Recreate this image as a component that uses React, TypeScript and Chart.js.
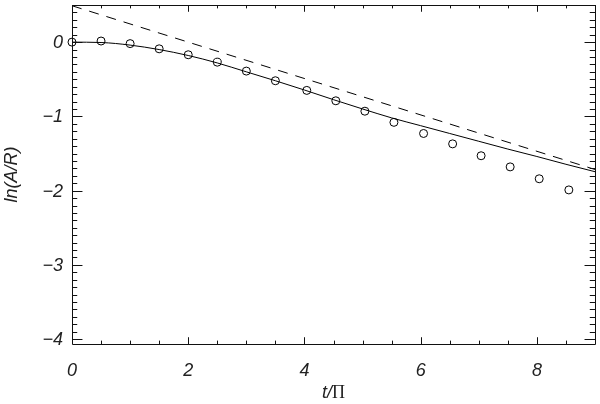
import React, { useEffect, useRef } from "react";
import { Chart, registerables } from "chart.js";

Chart.register(...registerables);

// Solid curve samples
const curveX = [0, 0.5, 1, 1.5, 2, 2.5, 3, 3.5, 4, 4.5, 5, 5.5, 6, 6.5, 7, 7.5, 8, 8.5, 9];
const curveY = [0, -0.005, -0.04, -0.1, -0.18, -0.28, -0.4, -0.52, -0.645, -0.775, -0.9, -1.02, -1.125, -1.23, -1.335, -1.44, -1.54, -1.645, -1.745];

// Dashed asymptote
const dashX = [0, 9];
const dashY = [0.49, -1.715];

// Circles
const circX = [0, 0.5, 1.0, 1.5, 2.0, 2.5, 3.0, 3.5, 4.04, 4.54, 5.04, 5.54, 6.05, 6.55, 7.04, 7.54, 8.04, 8.55];
const circY = [0, 0.015, -0.02, -0.09, -0.17, -0.27, -0.39, -0.52, -0.65, -0.79, -0.93, -1.08, -1.23, -1.37, -1.53, -1.68, -1.84, -1.99];

// Axes
const xMajor = [0, 2, 4, 6, 8];
const xMajorLabels = ["0", "2", "4", "6", "8"];
const xMinorStep = 0.5;
const yMajor = [0, -1, -2, -3, -4];
const yMajorLabels = ["0", "\u22121", "\u22122", "\u22123", "\u22124"];
const yMinorStep = 0.1;
const X_MIN = 0, X_MAX = 9, Y_MIN = -4.065, Y_MAX = 0.5;
const xTitleA = "t/";
const xTitleB = "\u03A0";
const yTitle = "ln(A/R)";

const FONT = "italic 18px 'Liberation Sans', Arial, sans-serif";
const FONT_UP = "18px 'Liberation Serif', serif";

const framePlugin = {
  id: "idlFrame",
  afterDraw(chart: any) {
    const ctx = chart.ctx;
    const { left, right, top, bottom } = chart.chartArea;
    const xs = chart.scales.x;
    const ys = chart.scales.y;
    const h = bottom - top;
    const w = right - left;
    const xMajLen = 0.02 * h, xMinLen = 0.01 * h;
    const yMajLen = 0.02 * w, yMinLen = 0.01 * w;
    ctx.save();
    ctx.strokeStyle = "#111";
    ctx.lineWidth = 1;
    ctx.beginPath();
    ctx.rect(left + 0.5, top + 0.5, w, h);
    ctx.stroke();
    ctx.beginPath();
    // x ticks
    for (let v = X_MIN; v <= X_MAX + 1e-9; v += xMinorStep) {
      const isMaj = xMajor.some((m) => Math.abs(m - v) < 1e-6);
      const len = isMaj ? xMajLen : xMinLen;
      const px = Math.round(xs.getPixelForValue(v)) + 0.5;
      ctx.moveTo(px, bottom);
      ctx.lineTo(px, bottom - len);
      ctx.moveTo(px, top);
      ctx.lineTo(px, top + len);
    }
    // y ticks
    const n = Math.round((Y_MAX - (-4)) / yMinorStep);
    for (let i = 0; i <= n; i++) {
      const v = -4 + i * yMinorStep;
      if (v < Y_MIN || v > Y_MAX + 1e-9) continue;
      const isMaj = yMajor.some((m) => Math.abs(m - v) < 1e-6);
      const len = isMaj ? yMajLen : yMinLen;
      const py = Math.round(ys.getPixelForValue(v)) + 0.5;
      ctx.moveTo(left, py);
      ctx.lineTo(left + len, py);
      ctx.moveTo(right, py);
      ctx.lineTo(right - len, py);
    }
    ctx.stroke();

    ctx.fillStyle = "#222";
    ctx.font = FONT;
    ctx.textAlign = "center";
    ctx.textBaseline = "top";
    xMajor.forEach((v, i) => {
      ctx.fillText(xMajorLabels[i], xs.getPixelForValue(v), bottom + 18);
    });
    ctx.textAlign = "right";
    ctx.textBaseline = "middle";
    yMajor.forEach((v, i) => {
      ctx.fillText(yMajorLabels[i], left - 9, ys.getPixelForValue(v) + 1);
    });
    // x title: italic "t/" + upright Pi
    ctx.textBaseline = "alphabetic";
    ctx.textAlign = "left";
    ctx.font = FONT;
    const wa = ctx.measureText(xTitleA).width;
    ctx.font = FONT_UP;
    const wb = ctx.measureText(xTitleB).width;
    const x0 = (left + right) / 2 - (wa + wb) / 2;
    const base = bottom + 54;
    ctx.font = FONT;
    ctx.fillText(xTitleA, x0, base);
    ctx.font = FONT_UP;
    ctx.fillText(xTitleB, x0 + wa, base);
    // y title
    ctx.font = FONT;
    ctx.textAlign = "center";
    ctx.textBaseline = "middle";
    ctx.save();
    ctx.translate(12, (top + bottom) / 2);
    ctx.rotate(-Math.PI / 2);
    ctx.fillText(yTitle, 0, 0);
    ctx.restore();
    ctx.restore();
  },
};

export default function App() {
  const ref = useRef<HTMLCanvasElement | null>(null);
  useEffect(() => {
    if (!ref.current) return;
    const chart = new Chart(ref.current, {
      type: "line",
      data: {
        datasets: [
          {
            data: curveX.map((x, i) => ({ x, y: curveY[i] })),
            borderColor: "#000",
            borderWidth: 1,
            pointRadius: 0,
            cubicInterpolationMode: "monotone",
            fill: false,
          },
          {
            data: dashX.map((x, i) => ({ x, y: dashY[i] })),
            borderColor: "#000",
            borderWidth: 1,
            borderDash: [10, 8],
            pointRadius: 0,
            fill: false,
          },
          {
            data: circX.map((x, i) => ({ x, y: circY[i] })),
            showLine: false,
            pointRadius: 4,
            pointBorderColor: "#000",
            pointBorderWidth: 1,
            pointBackgroundColor: "rgba(0,0,0,0)",
            fill: false,
            clip: false,
          },
        ],
      } as any,
      options: {
        animation: false,
        responsive: false,
        devicePixelRatio: 1,
        layout: { padding: { left: 72, right: 3, top: 5, bottom: 60 } },
        scales: {
          x: { type: "linear", min: X_MIN, max: X_MAX, display: false },
          y: { type: "linear", min: Y_MIN, max: Y_MAX, display: false },
        },
        plugins: { legend: { display: false }, tooltip: { enabled: false } },
      } as any,
      plugins: [framePlugin],
    });
    return () => chart.destroy();
  }, []);
  return (
    <div style={{ position: "fixed", left: 0, top: 0, width: 600, height: 404, background: "#fff" }}>
      <canvas ref={ref} width={600} height={404} style={{ width: 600, height: 404 }} />
    </div>
  );
}
